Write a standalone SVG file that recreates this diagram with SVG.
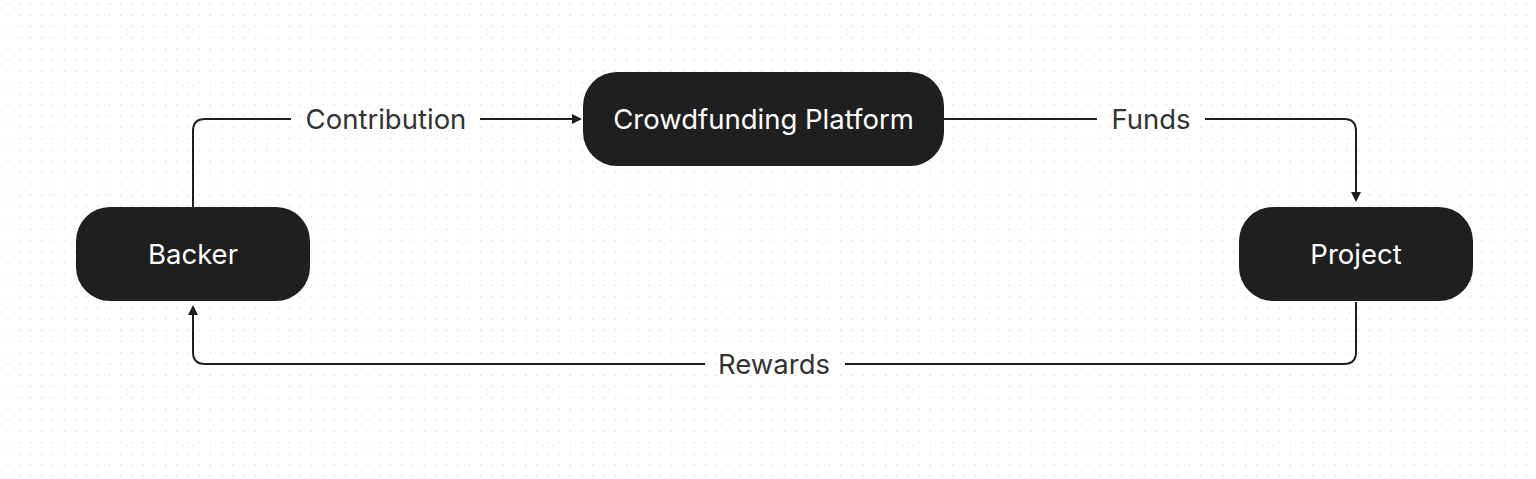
<svg xmlns="http://www.w3.org/2000/svg" width="1536" height="479" viewBox="0 0 1536 479">
  <defs>
    <pattern id="dots" x="0" y="0" width="11.25" height="11.25" patternUnits="userSpaceOnUse">
      <rect x="7.3" y="3.3" width="1.4" height="1.4" fill="#d9d9d9"/>
    </pattern>
    <marker id="arrow" viewBox="0 0 10 10" refX="0" refY="5" markerWidth="10" markerHeight="10" markerUnits="userSpaceOnUse" orient="auto">
      <path d="M0,0 L10,5 L0,10 z" fill="#1e1e1e"/>
    </marker>
  </defs>
  <style>
    .node rect { fill: #1f1f1f; }
    .node text { fill: #ffffff; font-family: Inter, "Noto Sans", sans-serif; font-size: 27.5px; text-anchor: middle; dominant-baseline: central; }
    .edge { fill: none; stroke: #1e1e1e; stroke-width: 2; }
    .label { fill: #333333; font-family: Inter, "Noto Sans", sans-serif; font-size: 27.5px; text-anchor: middle; dominant-baseline: central; }
  </style>
  <rect width="1536" height="479" fill="#ffffff"/>
  <rect width="1536" height="479" fill="url(#dots)"/>

  <g id="connectors">
    <path class="edge" d="M193,207 V131 Q193,119 205,119 H291 M480,119 H572" marker-end="url(#arrow)"/>
    <text class="label" x="386" y="119">Contribution</text>
    <path class="edge" d="M944,119 H1097 M1205,119 H1344 Q1356,119 1356,131 V192" marker-end="url(#arrow)"/>
    <text class="label" x="1151" y="119">Funds</text>
    <path class="edge" d="M1356,302 V352 Q1356,364 1344,364 H845 M705,364 H205 Q193,364 193,352 V315" marker-end="url(#arrow)"/>
    <text class="label" x="774" y="364">Rewards</text>
  </g>

  <g id="backer" class="node">
    <rect x="76" y="207" width="234" height="94" rx="34" ry="34"/>
    <text x="193" y="254">Backer</text>
  </g>
  <g id="platform" class="node">
    <rect x="583" y="72" width="361" height="94" rx="34" ry="34"/>
    <text x="763.5" y="119">Crowdfunding Platform</text>
  </g>
  <g id="project" class="node">
    <rect x="1239" y="207" width="234" height="94" rx="34" ry="34"/>
    <text x="1356" y="254">Project</text>
  </g>
</svg>
